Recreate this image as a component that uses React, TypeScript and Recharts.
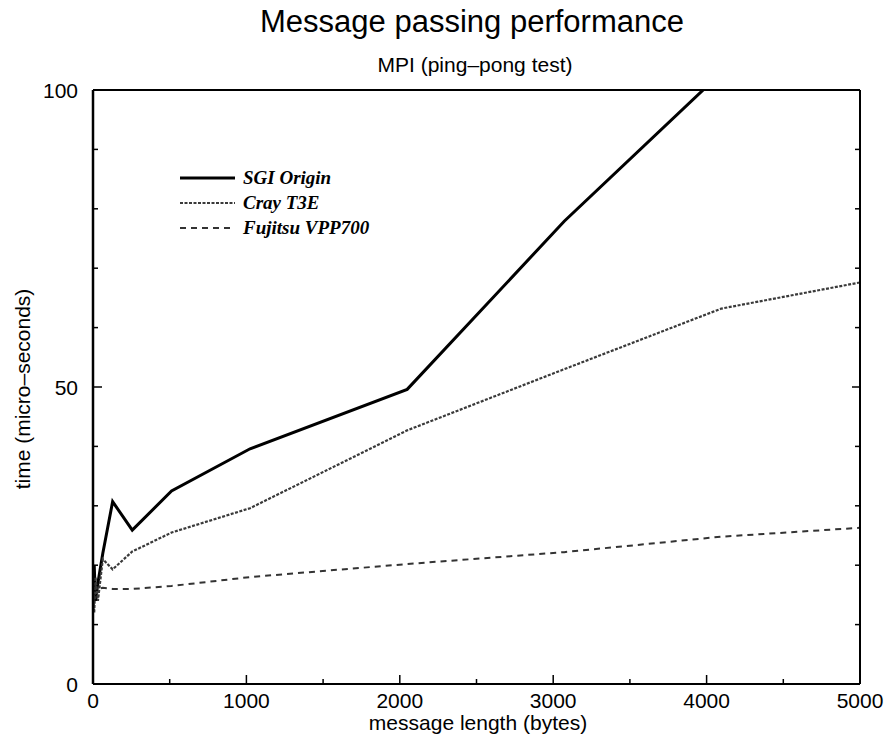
import React from 'react';
import { LineChart, Line, XAxis, YAxis, Legend } from 'recharts';

const messageBytes = [0, 8, 16, 32, 64, 128, 256, 512, 1024, 2048, 3072, 4096, 5000];
const sgiOrigin = [13, 20, 14, 17, 22, 30.7, 25.9, 32.5, 39.6, 49.6, 77.9, 102.9, null];
const crayT3E = [15, 12, 18, 14, 21, 19.3, 22.3, 25.5, 29.6, 42.7, 53, 63.2, 67.6];
const fujitsuVPP700 = [14, 15, 16.5, 16, 16.2, 16, 16, 16.5, 18, 20.2, 22.2, 24.8, 26.3];

const seriesNames = ['SGI Origin', 'Cray T3E', 'Fujitsu VPP700'];

const xTicks = [0, 500, 1000, 1500, 2000, 2500, 3000, 3500, 4000, 4500, 5000];
const yTicks = [0, 10, 20, 30, 40, 50, 60, 70, 80, 90, 100];
const xLabelled = [0, 1000, 2000, 3000, 4000, 5000];
const yLabelled = [0, 50, 100];

const title = 'Message passing performance';
const subtitle = 'MPI (ping–pong test)';
const xTitle = 'message length (bytes)';
const yTitle = 'time (micro–seconds)';

const data = messageBytes.map((b, i) => ({
  bytes: b,
  sgi: sgiOrigin[i],
  cray: crayT3E[i],
  fujitsu: fujitsuVPP700[i],
}));

const SANS = '"Liberation Sans", Arial, Helvetica, sans-serif';
const SERIF = '"Liberation Serif", "Times New Roman", serif';

const BottomTick = (props: any) => {
  const { x, y, payload } = props;
  const v = payload.value;
  const major = xLabelled.includes(v);
  return (
    <g>
      <line x1={x} y1={y} x2={x} y2={y - (major ? 9 : 5)} stroke="#000" strokeWidth={1.5} />
      {major && (
        <text x={x} y={y + 24} textAnchor="middle" fontFamily={SANS} fontSize={21} fill="#000">
          {v}
        </text>
      )}
    </g>
  );
};

const TopTick = (props: any) => {
  const { x, y, payload } = props;
  const major = xLabelled.includes(payload.value);
  return <line x1={x} y1={y} x2={x} y2={y + (major ? 8 : 5)} stroke="#000" strokeWidth={1.5} />;
};

const LeftTick = (props: any) => {
  const { x, y, payload } = props;
  const v = payload.value;
  const major = yLabelled.includes(v);
  return (
    <g>
      <line x1={x} y1={y} x2={x + (major ? 9 : 5)} y2={y} stroke="#000" strokeWidth={1.5} />
      {major && (
        <text x={x - 15} y={y + 7.5} textAnchor="end" fontFamily={SANS} fontSize={21} fill="#000">
          {v}
        </text>
      )}
    </g>
  );
};

const RightTick = (props: any) => {
  const { x, y, payload } = props;
  const major = yLabelled.includes(payload.value);
  return <line x1={x} y1={y} x2={x - (major ? 8 : 5)} y2={y} stroke="#000" strokeWidth={1.5} />;
};

const LegendContent = (props: any) => {
  const items = [...(props.payload || [])].sort(
    (a: any, b: any) => seriesNames.indexOf(a.value) - seriesNames.indexOf(b.value)
  );
  return (
    <svg width={240} height={80} style={{ display: 'block', overflow: 'visible' }}>
      {items.map((p: any, i: number) => {
        const y = 12 + i * 25;
        const sw = p.payload?.strokeWidth ?? 2;
        const dash = p.payload?.strokeDasharray;
        return (
          <g key={p.value}>
            <line x1={5} y1={y} x2={60} y2={y} stroke={p.color} strokeWidth={sw} strokeDasharray={dash} />
            <text x={68} y={y + 6} fontFamily={SERIF} fontStyle="italic" fontWeight="bold" fontSize={19} fill="#000">
              {p.value}
            </text>
          </g>
        );
      })}
    </svg>
  );
};

export default function App() {
  return (
    <div style={{ position: 'absolute', left: 0, top: 0, width: 884, height: 744, background: '#fff' }}>
      <LineChart
        width={884}
        height={744}
        data={data}
        margin={{ top: 89, right: 23, bottom: 59, left: 92 }}
        style={{ position: 'absolute', left: 0, top: 0 }}
      >
        <XAxis
          dataKey="bytes"
          type="number"
          domain={[0, 5000]}
          ticks={xTicks}
          allowDataOverflow
          height={1}
          tickSize={0}
          tickMargin={0}
          tickLine={false}
          tick={BottomTick}
          interval={0}
          axisLine={{ stroke: '#000', strokeWidth: 2 }}
        />
        <XAxis
          xAxisId="top"
          orientation="top"
          type="number"
          domain={[0, 5000]}
          ticks={xTicks}
          allowDataOverflow
          height={1}
          tickSize={0}
          tickMargin={0}
          tickLine={false}
          tick={TopTick}
          interval={0}
          axisLine={{ stroke: '#000', strokeWidth: 2 }}
        />
        <YAxis
          type="number"
          domain={[0, 100]}
          ticks={yTicks}
          allowDataOverflow
          width={1}
          tickSize={0}
          tickMargin={0}
          tickLine={false}
          tick={LeftTick}
          interval={0}
          axisLine={{ stroke: '#000', strokeWidth: 2.5 }}
        />
        <YAxis
          yAxisId="right"
          orientation="right"
          type="number"
          domain={[0, 100]}
          ticks={yTicks}
          allowDataOverflow
          width={1}
          tickSize={0}
          tickMargin={0}
          tickLine={false}
          tick={RightTick}
          interval={0}
          axisLine={{ stroke: '#000', strokeWidth: 2 }}
        />
        <Legend
          layout="vertical"
          align="center"
          verticalAlign="middle"
          content={LegendContent}
          wrapperStyle={{ left: 175, top: 166, width: 240, height: 80 }}
        />
        <Line
          name="SGI Origin"
          dataKey="sgi"
          stroke="#000"
          strokeWidth={3}
          dot={false}
          activeDot={false}
          isAnimationActive={false}
          strokeLinejoin="miter"
        />
        <Line
          name="Cray T3E"
          dataKey="cray"
          stroke="#3a3a3a"
          strokeWidth={2.2}
          strokeDasharray="3 1.5"
          dot={false}
          activeDot={false}
          isAnimationActive={false}
        />
        <Line
          name="Fujitsu VPP700"
          dataKey="fujitsu"
          stroke="#333"
          strokeWidth={2}
          strokeDasharray="6 5"
          dot={false}
          activeDot={false}
          isAnimationActive={false}
        />
      </LineChart>
      <svg width={884} height={744} style={{ position: 'absolute', left: 0, top: 0, pointerEvents: 'none' }}>
        <text x={472} y={32} textAnchor="middle" fontFamily={SANS} fontSize={31} fill="#000">
          {title}
        </text>
        <text x={475} y={72} textAnchor="middle" fontFamily={SANS} fontSize={21} fill="#000">
          {subtitle}
        </text>
        <text x={478} y={730} textAnchor="middle" fontFamily={SANS} fontSize={21} fill="#000">
          {xTitle}
        </text>
        <text
          x={0}
          y={0}
          transform="translate(30,389) rotate(-90)"
          textAnchor="middle"
          fontFamily={SANS}
          fontSize={21}
          fill="#000"
        >
          {yTitle}
        </text>
      </svg>
    </div>
  );
}
